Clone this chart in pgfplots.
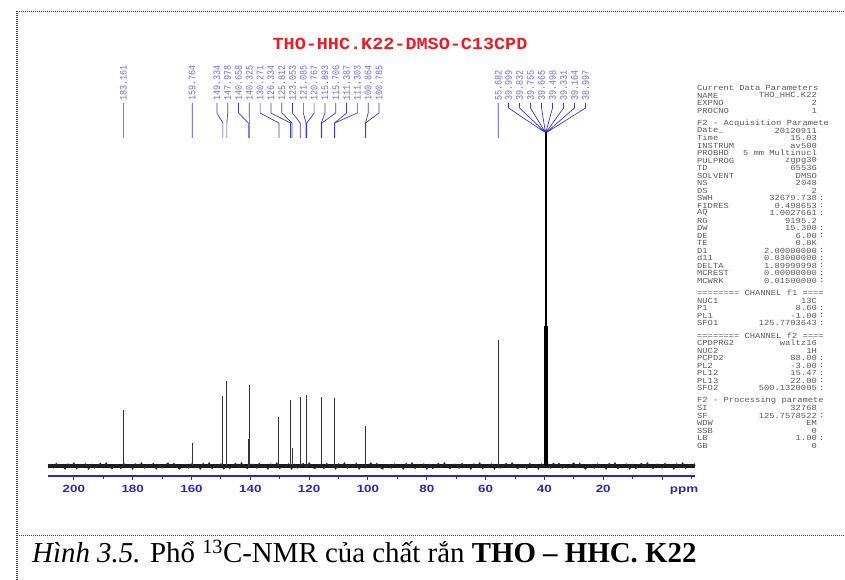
\documentclass[border=0pt]{standalone}
\usepackage{fontspec}
\setmainfont{Liberation Serif}
\newfontfamily\LMono{Liberation Mono}
\newfontfamily\LSans{Liberation Sans}
\usepackage{graphicx}
\usepackage{pgfplots}
\pgfplotsset{compat=1.18}
\definecolor{axblue}{RGB}{40,40,190}
\definecolor{lblblue}{RGB}{110,110,225}
\definecolor{lnblue}{RGB}{60,60,205}
\definecolor{ttlred}{RGB}{232,30,36}
\definecolor{partxt}{RGB}{90,90,90}
\newcommand{\ptxt}[1]{\scalebox{1.13}[1]{\LMono\fontsize{7.8}{7.8}\selectfont #1}}
\newcommand{\prow}[4]{%
  \node[anchor=west,inner sep=0,text=partxt] at (697bp,#1bp) {\ptxt{#2}};
  \node[anchor=east,inner sep=0,text=partxt] at (817bp,#1bp) {\ptxt{#3}};
  \node[anchor=west,inner sep=0,text=partxt] at (819bp,#1bp) {\ptxt{#4}};}
\newcommand{\phead}[2]{\node[anchor=west,inner sep=0,text=partxt] at (697bp,#1bp) {\ptxt{#2}};}
\begin{document}
\begin{tikzpicture}
\path[use as bounding box] (0,0) rectangle (845bp,580bp);
% frame
\draw[black!75, line width=0.9bp, dash pattern=on 1bp off 1bp] (17bp,569bp) -- (845bp,569bp);
\draw[black!75, line width=0.9bp, dash pattern=on 1bp off 1bp] (17bp,45bp) -- (845bp,45bp);
\draw[black!75, line width=2bp, dash pattern=on 1bp off 1bp] (17bp,569bp) -- (17bp,0bp);
% title
\node[text=ttlred] at (400bp,536bp) {\scalebox{1.09}[1]{\LMono\bfseries\fontsize{17}{17}\selectfont THO-HHC.K22-DMSO-C13CPD}};
\begin{axis}[
  at={(48bp,104bp)}, anchor=south west,
  scale only axis, width=647bp, height=446bp,
  xmin=-11.2, xmax=208.8, ymin=-10, ymax=436,
  x dir=reverse, clip=false,
  axis x line*=bottom, axis y line=none, ytick=\empty,
  x axis line style={-, draw=axblue, line width=1.3bp},
  xtick={0,20,...,200},
  xticklabels={{},20,40,60,80,100,120,140,160,180,200},
  minor xtick={-10,10,30,...,190},
  tick align=outside,
  major tick length=4bp, minor tick length=3bp,
  tick style={axblue, line width=1bp},
  xticklabel style={font=\LSans\bfseries\fontsize{10.5}{10.5}\selectfont, text=axblue, xscale=1.28, anchor=center, yshift=-9bp},
]
% baseline noise band
\addplot[black!90, line width=3.5bp] coordinates {(208.8,0) (-11.2,0)};
\addplot[black!85, line width=1bp] coordinates {
(208.8,0)(208,1.5)(207,-2)(206,2.5)(205,-1)(204,0.5)(203,-3)(202,2)(201,-1.5)(200,3)(199,-2.5)(198,1)(197,-0.5)(196,2)(195,-3)(194,1.5)(193,-2)(192,0.5)(191,2.5)(190,-1.5)(189,3)(188,-1)(187,-2.5)(186,1)
(185,1)(184,-2.5)(183,2.5)(182,-1)(181,1)(180,-3)(179,2)(178,-1)(177,3)(176,-2)(175,1.5)(174,-0.5)(173,2.5)(172,-3)(171,1)(170,-2)(169,0.5)(168,3)(167,-1.5)(166,2.5)(165,-1)(164,-3)(163,1)
(162,1.5)(161,-2)(160,2)(159,-1.5)(158,0.5)(157,-3)(156,2.5)(155,-1.5)(154,3)(153,-2.5)(152,1)(151,-1)(150,2)(149,-3)(148,1.5)(147,-2.5)(146,0.5)(145,2.5)(144,-1.5)(143,3)(142,-1)(141,-2.5)(140,1.5)
(139,1.5)(138,-2)(137,2.5)(136,-1)(135,0.5)(134,-3)(133,2)(132,-1.5)(131,3)(130,-2.5)(129,1)(128,-0.5)(127,2)(126,-3)(125,1.5)(124,-2)(123,0.5)(122,2.5)(121,-1.5)(120,3)(119,-1)(118,-2.5)(117,1)
(116,1)(115,-2.5)(114,2.5)(113,-1)(112,1)(111,-3)(110,2)(109,-1)(108,3)(107,-2)(106,1.5)(105,-0.5)(104,2.5)(103,-3)(102,1)(101,-2)(100,0.5)(99,3)(98,-1.5)(97,2.5)(96,-1)(95,-3)(94,1)
(93,1.5)(92,-2)(91,2)(90,-1.5)(89,0.5)(88,-3)(87,2.5)(86,-1.5)(85,3)(84,-2.5)(83,1)(82,-1)(81,2)(80,-3)(79,1.5)(78,-2.5)(77,0.5)(76,2.5)(75,-1.5)(74,3)(73,-1)(72,-2.5)(71,1.5)
(70,1.5)(69,-2)(68,2.5)(67,-1)(66,0.5)(65,-3)(64,2)(63,-1.5)(62,3)(61,-2.5)(60,1)(59,-0.5)(58,2)(57,-3)(56,1.5)(55,-2)(54,0.5)(53,2.5)(52,-1.5)(51,3)(50,-1)(49,-2.5)(48,1)
(47,1)(46,-2.5)(45,2.5)(44,-1)(43,1)(42,-3)(41,2)(40,-1)(39,3)(38,-2)(37,2.5)(36,0.5)(35,2.5)(34,-2)(33,1)(32,-2)(31,0.5)(30,3)(29,-1.5)(28,2.5)(27,-1)(26,-3)(25,1)
(24,1.5)(23,-2)(22,2)(21,-1.5)(20,0.5)(19,-3)(18,2.5)(17,-1.5)(16,3)(15,-2.5)(14,1)(13,-1)(12,2)(11,-3)(10,1.5)(9,-2.5)(8,0.5)(7,2.5)(6,-1.5)(5,3)(4,-1)(3,-2.5)(2,1.5)
(1,1.5)(0,-2)(-1,2.5)(-2,-1)(-3,0.5)(-4,-3)(-5,2)(-6,-1.5)(-7,3)(-8,-2.5)(-9,1)(-10,-0.5)(-11,2)(-11.2,0)
};
% peaks
\addplot[ycomb, black!80, line width=0.9bp] coordinates {
(183.161,56) (159.764,23) (149.334,70) (147.978,85) (140.658,27) (140.325,81)
(130.271,49) (126.334,66) (125.812,18) (123.053,69) (121.085,71) (120.767,18)
(115.893,69) (115.706,57) (111.387,68) (111.303,10) (100.864,40) (100.785,13)
(55.682,126)};
\addplot[ycomb, black, line width=1.3bp] coordinates {
(39.999,40) (39.832,140) (39.665,250) (39.498,336) (39.331,250) (39.164,140) (38.997,40)};
% leader lines
\addplot[lnblue, line width=0.7bp, unbounded coords=jump] coordinates {
(183.161,363) (183.161,328) (0,nan)
(159.764,363) (159.764,328) (0,nan)
(151.36,363) (151.36,353) (149.334,343) (149.334,328) (0,nan)
(147.69,363) (147.69,353) (147.978,343) (147.978,328) (0,nan)
(144.01,363) (144.01,353) (140.658,343) (140.658,328) (0,nan)
(140.34,363) (140.34,353) (140.325,343) (140.325,328) (0,nan)
(136.67,363) (136.67,353) (130.271,343) (130.271,328) (0,nan)
(132.99,363) (132.99,353) (126.334,343) (126.334,328) (0,nan)
(129.32,363) (129.32,353) (125.812,343) (125.812,328) (0,nan)
(125.65,363) (125.65,353) (123.053,343) (123.053,328) (0,nan)
(121.97,363) (121.97,353) (121.085,343) (121.085,328) (0,nan)
(118.30,363) (118.30,353) (120.767,343) (120.767,328) (0,nan)
(114.63,363) (114.63,353) (115.893,343) (115.893,328) (0,nan)
(110.95,363) (110.95,353) (115.706,343) (115.706,328) (0,nan)
(107.28,363) (107.28,353) (111.387,343) (111.387,328) (0,nan)
(103.61,363) (103.61,353) (111.303,343) (111.303,328) (0,nan)
(99.93,363) (99.93,353) (100.864,343) (100.864,328) (0,nan)
(96.26,363) (96.26,353) (100.785,343) (100.785,328) (0,nan)
(55.682,363) (55.682,328) (0,nan)
(52.21,363) (52.21,358) (39.999,334) (0,nan)
(48.47,363) (48.47,358) (39.832,334) (0,nan)
(44.73,363) (44.73,358) (39.755,334) (0,nan)
(40.99,363) (40.99,358) (39.665,334) (0,nan)
(37.24,363) (37.24,358) (39.498,334) (0,nan)
(33.50,363) (33.50,358) (39.331,334) (0,nan)
(29.76,363) (29.76,358) (39.164,334) (0,nan)
(26.02,363) (26.02,358) (38.997,334)
};
% peak labels
\addplot[draw=none, nodes near coords={\scalebox{0.85}[1]{\LMono\fontsize{10}{10}\selectfont\pgfplotspointmeta}},
  point meta=explicit symbolic,
  nodes near coords style={rotate=90, anchor=west, inner sep=0pt, text=lblblue}]
  table[meta=lab] {
x y lab
183.161 365 183.161
159.764 365 159.764
151.36 365 149.334
147.69 365 147.978
144.01 365 140.658
140.34 365 140.325
136.67 365 130.271
132.99 365 126.334
129.32 365 125.812
125.65 365 123.053
121.97 365 121.085
118.30 365 120.767
114.63 365 115.893
110.95 365 115.706
107.28 365 111.387
103.61 365 111.303
99.93 365 100.864
96.26 365 100.785
55.682 365 55.682
52.21 365 39.999
48.47 365 39.832
44.73 365 39.755
40.99 365 39.665
37.24 365 39.498
33.50 365 39.331
29.76 365 39.164
26.02 365 38.997
};
\node[text=axblue, font=\LSans\bfseries\fontsize{10.5}{10.5}\selectfont, xscale=1.28] at (axis cs:-7.5,-25) {ppm};
\end{axis}
% parameter block
\phead{492}{Current Data Parameters}
\prow{484.5}{NAME}{THO\_HHC.K22}{}
\prow{477}{EXPNO}{2}{}
\prow{469.5}{PROCNO}{1}{}
\phead{457}{F2 - Acquisition Paramete}
\prow{449.5}{Date\_}{20120911}{}
\prow{442}{Time}{15.03}{}
\prow{434.5}{INSTRUM}{av500}{}
\prow{427}{PROBHD}{5 mm Multinucl}{}
\prow{419.5}{PULPROG}{zgpg30}{}
\prow{412}{TD}{65536}{}
\prow{404.5}{SOLVENT}{DMSO}{}
\prow{397}{NS}{2048}{}
\prow{389.5}{DS}{2}{}
\prow{382}{SWH}{32679.738}{:}
\prow{374.5}{FIDRES}{0.498653}{:}
\prow{367}{AQ}{1.0027661}{:}
\prow{359.5}{RG}{9195.2}{}
\prow{352}{DW}{15.300}{:}
\prow{344.5}{DE}{6.00}{:}
\prow{337}{TE}{0.0K}{}
\prow{329.5}{D1}{2.00000000}{:}
\prow{322}{d11}{0.03000000}{:}
\prow{314.5}{DELTA}{1.89999998}{:}
\prow{307}{MCREST}{0.00000000}{:}
\prow{299.5}{MCWRK}{0.01500000}{:}
\phead{287}{======== CHANNEL f1 ====}
\prow{279.5}{NUC1}{13C}{}
\prow{272}{P1}{8.60}{:}
\prow{264.5}{PL1}{-1.00}{:}
\prow{257}{SFO1}{125.7703643}{:}
\phead{244.5}{======== CHANNEL f2 ====}
\prow{237}{CPDPRG2}{waltz16}{}
\prow{229.5}{NUC2}{1H}{}
\prow{222}{PCPD2}{88.00}{:}
\prow{214.5}{PL2}{-3.00}{:}
\prow{207}{PL12}{15.47}{:}
\prow{199.5}{PL13}{22.00}{:}
\prow{192}{SFO2}{500.1320005}{:}
\phead{179.5}{F2 - Processing paramete}
\prow{172}{SI}{32768}{}
\prow{164.5}{SF}{125.7578522}{:}
\prow{157}{WDW}{EM}{}
\prow{149.5}{SSB}{0}{}
\prow{142}{LB}{1.00}{:}
\prow{134.5}{GB}{0}{}
% caption
\node[anchor=base west, inner sep=0] at (32bp,18bp) {\fontsize{29}{29}\selectfont \textit{Hình 3.5.} Phổ \textsuperscript{13}C-NMR của chất rắn \textbf{THO – HHC. K22}};
\end{tikzpicture}
\end{document}
